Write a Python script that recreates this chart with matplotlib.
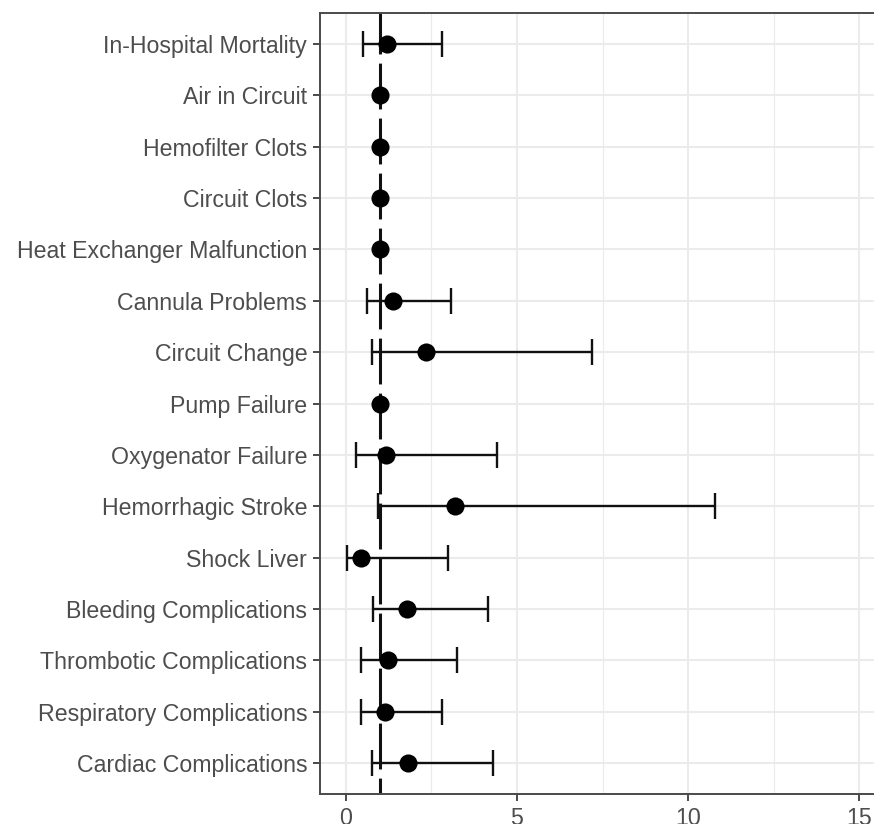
import matplotlib

matplotlib.use("Agg")
import matplotlib.pyplot as plt  # noqa: E402
from matplotlib.ticker import MultipleLocator  # noqa: E402

# outcomes listed top to bottom
outcomes = [
    "In-Hospital Mortality",
    "Air in Circuit",
    "Hemofilter Clots",
    "Circuit Clots",
    "Heat Exchanger Malfunction",
    "Cannula Problems",
    "Circuit Change",
    "Pump Failure",
    "Oxygenator Failure",
    "Hemorrhagic Stroke",
    "Shock Liver",
    "Bleeding Complications",
    "Thrombotic Complications",
    "Respiratory Complications",
    "Cardiac Complications",
]
odds_ratio = [1.20, 1.0, 1.0, 1.0, 1.0, 1.37, 2.36, 1.0, 1.17, 3.18, 0.44, 1.80, 1.23, 1.15, 1.82]
ci_low = [0.50, 1.0, 1.0, 1.0, 1.0, 0.61, 0.76, 1.0, 0.29, 0.94, 0.05, 0.79, 0.46, 0.46, 0.76]
ci_high = [2.80, 1.0, 1.0, 1.0, 1.0, 3.09, 7.20, 1.0, 4.43, 10.79, 3.00, 4.16, 3.24, 2.82, 4.30]

W, H, DPI = 874, 824, 100
TEXT_GREY = "#4D4D4D"
BORDER_GREY = "#4A4A4A"

plt.rcParams["font.family"] = ["Liberation Sans", "DejaVu Sans"]

fig = plt.figure(figsize=(W / DPI, H / DPI), dpi=DPI)
fig.patch.set_facecolor("white")
# panel runs past the right edge of the image, as in the reference
ax = fig.add_axes([320 / W, 30 / H, (885 - 320) / W, (794 - 13) / H])

n = len(outcomes)
ypos = list(range(n))

for i in range(n):
    lo, hi = ci_low[i], ci_high[i]
    if hi - lo > 1e-9:
        ax.errorbar(
            odds_ratio[i], ypos[i],
            xerr=[[odds_ratio[i] - lo], [hi - odds_ratio[i]]],
            fmt="none", ecolor="#111111", elinewidth=1.7, capsize=9.5, capthick=1.7,
            zorder=3,
        )

# reference line at OR = 1, drawn from the top of the panel down
ax.plot([1, 1], [-0.6, n - 0.4], color="#111111", linewidth=2.2,
        linestyle=(1.6, (15.0, 3.0)), zorder=2, solid_capstyle="butt")
ax.scatter(odds_ratio, ypos, s=170, color="black", zorder=4, linewidths=0)

ax.set_xlim(-0.75, 15.75)
ax.set_ylim(n - 1 + 0.6, -0.6)
ax.set_yticks(ypos)
ax.set_yticklabels(outcomes)
ax.xaxis.set_major_locator(MultipleLocator(5))
ax.xaxis.set_minor_locator(MultipleLocator(2.5))

ax.grid(which="major", color="#EBEBEB", linewidth=1.5, zorder=0)
ax.grid(which="minor", axis="x", color="#EBEBEB", linewidth=0.8, zorder=0)
ax.set_axisbelow(True)

for spine in ax.spines.values():
    spine.set_color(BORDER_GREY)
    spine.set_linewidth(1.4)

ax.tick_params(axis="both", which="major", length=5.2, width=1.4, color=BORDER_GREY,
               labelcolor=TEXT_GREY, labelsize=16.7, pad=4)
ax.tick_params(axis="x", which="minor", length=0)

fig.savefig("out.png", dpi=DPI, facecolor="white")
plt.close(fig)
